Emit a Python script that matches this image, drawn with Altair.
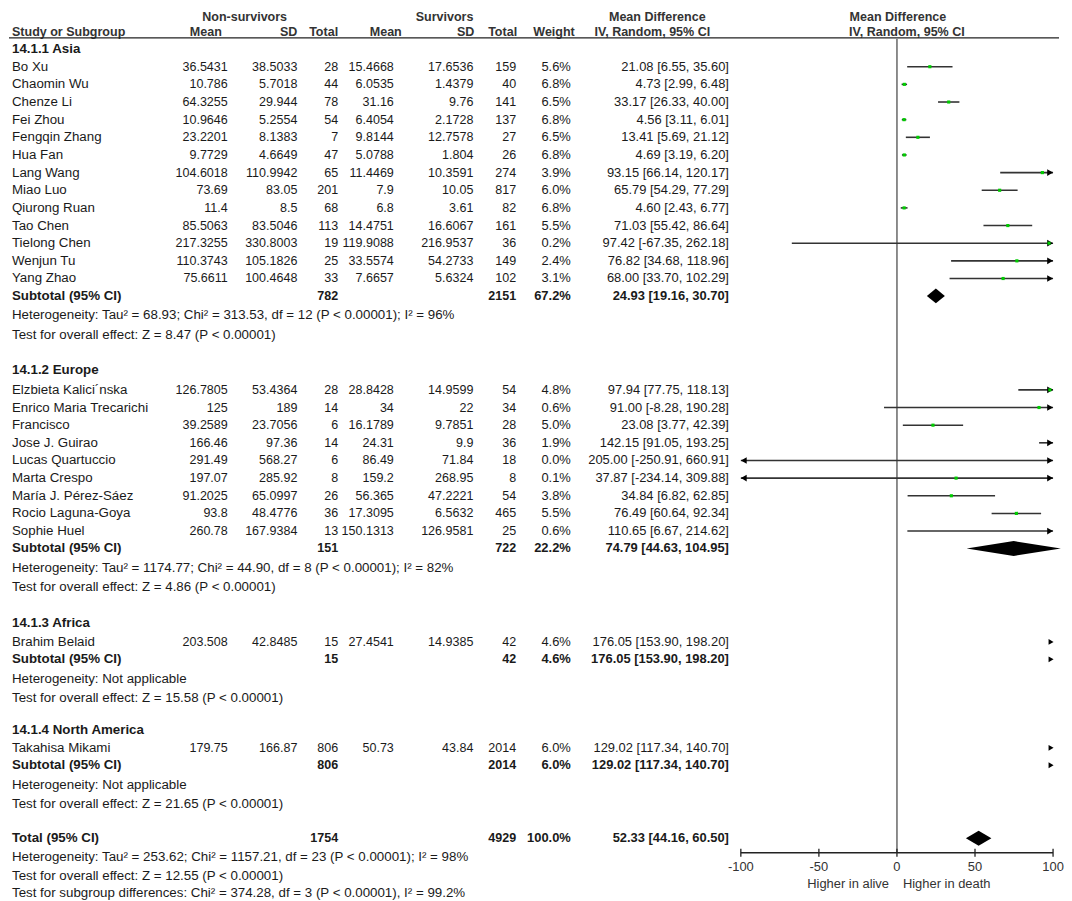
import altair as alt
import pandas as pd

# ---------------- data ----------------
study = ["Bo Xu", "Chaomin Wu", "Chenze Li", "Fei Zhou", "Fengqin Zhang", "Hua Fan", "Lang Wang",
         "Miao Luo", "Qiurong Ruan", "Tao Chen", "Tielong Chen", "Wenjun Tu", "Yang Zhao",
         "Elzbieta Kalici\u00b4nska", "Enrico Maria Trecarichi", "Francisco", "Jose J. Guirao",
         "Lucas Quartuccio", "Marta Crespo", "Mar\u00eda J. P\u00e9rez-S\u00e1ez", "Rocio Laguna-Goya", "Sophie Huel",
         "Brahim Belaid", "Takahisa Mikami"]
group = [0] * 13 + [1] * 9 + [2] + [3]
ns_mean = ["36.5431", "10.786", "64.3255", "10.9646", "23.2201", "9.7729", "104.6018", "73.69", "11.4",
           "85.5063", "217.3255", "110.3743", "75.6611",
           "126.7805", "125", "39.2589", "166.46", "291.49", "197.07", "91.2025", "93.8", "260.78",
           "203.508", "179.75"]
ns_sd = ["38.5033", "5.7018", "29.944", "5.2554", "8.1383", "4.6649", "110.9942", "83.05", "8.5",
         "83.5046", "330.8003", "105.1826", "100.4648",
         "53.4364", "189", "23.7056", "97.36", "568.27", "285.92", "65.0997", "48.4776", "167.9384",
         "42.8485", "166.87"]
ns_n = [28, 44, 78, 54, 7, 47, 65, 201, 68, 113, 19, 25, 33,
        28, 14, 6, 14, 6, 8, 26, 36, 13,
        15, 806]
s_mean = ["15.4668", "6.0535", "31.16", "6.4054", "9.8144", "5.0788", "11.4469", "7.9", "6.8",
          "14.4751", "119.9088", "33.5574", "7.6657",
          "28.8428", "34", "16.1789", "24.31", "86.49", "159.2", "56.365", "17.3095", "150.1313",
          "27.4541", "50.73"]
s_sd = ["17.6536", "1.4379", "9.76", "2.1728", "12.7578", "1.804", "10.3591", "10.05", "3.61",
        "16.6067", "216.9537", "54.2733", "5.6324",
        "14.9599", "22", "9.7851", "9.9", "71.84", "268.95", "47.2221", "6.5632", "126.9581",
        "14.9385", "43.84"]
s_n = [159, 40, 141, 137, 27, 26, 274, 817, 82, 161, 36, 149, 102,
       54, 34, 28, 36, 18, 8, 54, 465, 25,
       42, 2014]
weight = [5.6, 6.8, 6.5, 6.8, 6.5, 6.8, 3.9, 6.0, 6.8, 5.5, 0.2, 2.4, 3.1,
          4.8, 0.6, 5.0, 1.9, 0.0, 0.1, 3.8, 5.5, 0.6,
          4.6, 6.0]
md = [21.08, 4.73, 33.17, 4.56, 13.41, 4.69, 93.15, 65.79, 4.60, 71.03, 97.42, 76.82, 68.00,
      97.94, 91.00, 23.08, 142.15, 205.00, 37.87, 34.84, 76.49, 110.65,
      176.05, 129.02]
lo = [6.55, 2.99, 26.33, 3.11, 5.69, 3.19, 66.14, 54.29, 2.43, 55.42, -67.35, 34.68, 33.70,
      77.75, -8.28, 3.77, 91.05, -250.91, -234.14, 6.82, 60.64, 6.67,
      153.90, 117.34]
hi = [35.60, 6.48, 40.00, 6.01, 21.12, 6.20, 120.17, 77.29, 6.77, 86.64, 262.18, 118.96, 102.29,
      118.13, 190.28, 42.39, 193.25, 660.91, 309.88, 62.85, 92.34, 214.62,
      198.20, 140.70]

sub_names = ["14.1.1 Asia", "14.1.2 Europe", "14.1.3 Africa", "14.1.4 North America"]
sub_ns_n = [782, 151, 15, 806]
sub_s_n = [2151, 722, 42, 2014]
sub_weight = [67.2, 22.2, 4.6, 6.0]
sub_md = [24.93, 74.79, 176.05, 129.02]
sub_lo = [19.16, 44.63, 153.90, 117.34]
sub_hi = [30.70, 104.95, 198.20, 140.70]
sub_het = ["Heterogeneity: Tau\u00b2 = 68.93; Chi\u00b2 = 313.53, df = 12 (P < 0.00001); I\u00b2 = 96%",
           "Heterogeneity: Tau\u00b2 = 1174.77; Chi\u00b2 = 44.90, df = 8 (P < 0.00001); I\u00b2 = 82%",
           "Heterogeneity: Not applicable",
           "Heterogeneity: Not applicable"]
sub_test = ["Test for overall effect: Z = 8.47 (P < 0.00001)",
            "Test for overall effect: Z = 4.86 (P < 0.00001)",
            "Test for overall effect: Z = 15.58 (P < 0.00001)",
            "Test for overall effect: Z = 21.65 (P < 0.00001)"]

tot_ns_n, tot_s_n, tot_weight = 1754, 4929, 100.0
tot_md, tot_lo, tot_hi = 52.33, 44.16, 60.50
tot_het = "Heterogeneity: Tau\u00b2 = 253.62; Chi\u00b2 = 1157.21, df = 23 (P < 0.00001); I\u00b2 = 98%"
tot_test = "Test for overall effect: Z = 12.55 (P < 0.00001)"
subgroup_test = "Test for subgroup differences: Chi\u00b2 = 374.28, df = 3 (P < 0.00001), I\u00b2 = 99.2%"

axis_ticks = [-100, -50, 0, 50, 100]
axis_left_label = "Higher in alive"
axis_right_label = "Higher in death"

# ---------------- layout / styling ----------------
FONT = "Liberation Sans"
FS_NAME = 13.4
FS_NUM = 12.6
FS_CI = 13
FS_HDR = 12.6
TXT = "#1a1a1a"
HDR = "#333333"
W, H = 1056, 893
XMIN, XMAX = -100, 100

# vertical spacing of the table lines (px)
gap_before_header = [0, 36, 36, 32]
head_to_first = [17.5, 19.5, 19, 18]
STEP = 17.75
LAST_TO_SUB = 17.5
SUB_TO_HET = 19.5
HET_TO_TEST = 19.5


def ci_text(m, l, h):
    return f"{m:.2f} [{l:.2f}, {h:.2f}]"


rows = []
forest = []
diamonds = []
subarrows = []


def add_row(y, bold, **cells):
    d = {"y": y, "bold": bold}
    d.update(cells)
    rows.append(d)


y = 38.0
for g in range(4):
    y += gap_before_header[g]
    add_row(y, True, name=sub_names[g])
    y += head_to_first[g]
    idx = [i for i, gg in enumerate(group) if gg == g]
    for j, i in enumerate(idx):
        if j > 0:
            y += STEP
        add_row(y, False, name=study[i], nsm=ns_mean[i], nss=ns_sd[i], nsn=str(ns_n[i]),
                sm=s_mean[i], ss=s_sd[i], sn=str(s_n[i]), w=f"{weight[i]:.1f}%",
                ci=ci_text(md[i], lo[i], hi[i]))
        forest.append({"y": y, "md": md[i], "lo": lo[i], "hi": hi[i]})
    y += LAST_TO_SUB
    add_row(y, True, name="Subtotal (95% CI)", nsn=str(sub_ns_n[g]), sn=str(sub_s_n[g]),
            w=f"{sub_weight[g]:.1f}%", ci=ci_text(sub_md[g], sub_lo[g], sub_hi[g]))
    if sub_lo[g] > XMAX:
        subarrows.append({"y": y, "v": XMAX})
    else:
        diamonds.append({"y": y, "md": sub_md[g], "lo": sub_lo[g], "hi": sub_hi[g], "k": f"s{g}"})
    y += SUB_TO_HET
    add_row(y, False, name=sub_het[g])
    y += HET_TO_TEST
    add_row(y, False, name=sub_test[g])

y += 34.5
add_row(y, True, name="Total (95% CI)", nsn=str(tot_ns_n), sn=str(tot_s_n),
        w=f"{tot_weight:.1f}%", ci=ci_text(tot_md, tot_lo, tot_hi))
diamonds.append({"y": y, "md": tot_md, "lo": tot_lo, "hi": tot_hi, "k": "tot"})
y += 18.5
add_row(y, False, name=tot_het)
y += 19
add_row(y, False, name=tot_test)
y += 18
add_row(y, False, name=subgroup_test)

rows_df = pd.DataFrame(rows)

yscale = alt.Scale(domain=[0, H], range=[0, H], nice=False, zero=False)
xscale = alt.Scale(domain=[XMIN, XMAX], range=[736, 1050], nice=False, zero=False)
Y = alt.Y("y:Q", scale=yscale, axis=None)

layers = []

# table text columns
cols = [("name", 3, "left", FS_NAME), ("nsm", 220, "right", FS_NUM), ("nss", 290, "right", FS_NUM),
        ("nsn", 331, "right", FS_NUM), ("sm", 387, "right", FS_NUM), ("ss", 467, "right", FS_NUM),
        ("sn", 510, "right", FS_NUM), ("w", 565, "right", FS_CI), ("ci", 724, "right", FS_CI)]
for key, xpos, al, fs in cols:
    for b in (False, True):
        sub = rows_df[(rows_df["bold"] == b) & rows_df[key].notna()][["y", key]].rename(columns={key: "t"})
        if len(sub) == 0:
            continue
        layers.append(alt.Chart(sub).mark_text(align=al, baseline="middle", font=FONT, fontSize=fs,
                                               fontWeight="bold" if b else "normal", color=TXT)
                      .encode(x=alt.value(xpos), y=Y, text="t:N"))


def label(text, x, yv, align="left", bold=True, color=HDR, fs=FS_HDR, baseline="alphabetic"):
    return alt.Chart(pd.DataFrame({"t": [text]})).mark_text(
        align=align, baseline=baseline, font=FONT, fontSize=fs,
        fontWeight="bold" if bold else "normal", color=color).encode(
        x=alt.value(x), y=alt.value(yv), text="t:N")


# headers (two lines, baselines)
R1, R2 = 9.8, 24.5
layers += [
    label("Non-survivors", 237, R1, "center"),
    label("Survivors", 438, R1, "center"),
    label("Mean Difference", 652, R1, "center"),
    label("Mean Difference", 894, R1, "center"),
    label("Study or Subgroup", 3, R2, "left"),
    label("Mean", 214, R2, "right"),
    label("SD", 290, R2, "right"),
    label("Total", 331, R2, "right"),
    label("Mean", 395, R2, "right"),
    label("SD", 468, R2, "right"),
    label("Total", 511, R2, "right"),
    label("Weight", 569, R2, "right"),
    label("IV, Random, 95% CI", 647, R2, "center"),
    label("IV, Random, 95% CI", 903, R2, "center"),
]

# header underline
layers.append(alt.Chart(pd.DataFrame({"a": [0]})).mark_rule(color="#222222", strokeWidth=1.2)
              .encode(x=alt.value(0), x2=alt.value(W), y=alt.value(26.5)))

# zero line
layers.append(alt.Chart(pd.DataFrame({"v": [0]})).mark_rule(color="#808080", strokeWidth=1.8)
              .encode(x=alt.X("v:Q", scale=xscale, axis=None), y=alt.value(27.5), y2=alt.value(846)))

# CI lines
f_df = pd.DataFrame(forest)
f_df["x1"] = f_df["lo"].clip(lower=XMIN)
f_df["x2"] = f_df["hi"].clip(upper=XMAX)
lines = f_df[f_df["lo"] < XMAX]
layers.append(alt.Chart(lines).mark_rule(color="#333333", strokeWidth=1.6)
              .encode(x=alt.X("x1:Q", scale=xscale, axis=None), x2="x2:Q", y=Y))

# arrows
right = f_df[(f_df["hi"] > XMAX) & (f_df["lo"] < XMAX)].assign(v=XMAX)
left = f_df[f_df["lo"] < XMIN].assign(v=XMIN)
outside = f_df[f_df["lo"] > XMAX].assign(v=XMAX)
layers.append(alt.Chart(right).mark_point(shape="triangle-right", filled=True, color="black",
                                          opacity=1, size=45, xOffset=-3)
              .encode(x=alt.X("v:Q", scale=xscale, axis=None), y=Y))
layers.append(alt.Chart(left).mark_point(shape="triangle-left", filled=True, color="black",
                                         opacity=1, size=45, xOffset=3)
              .encode(x=alt.X("v:Q", scale=xscale, axis=None), y=Y))
arr2 = pd.concat([outside[["y", "v"]], pd.DataFrame(subarrows)])
layers.append(alt.Chart(arr2).mark_point(shape="triangle-right", filled=True, color="black",
                                         opacity=1, size=34, xOffset=-2)
              .encode(x=alt.X("v:Q", scale=xscale, axis=None), y=Y))

# point estimates
pts = f_df[(f_df["md"] >= XMIN) & (f_df["md"] <= XMAX)]
layers.append(alt.Chart(pts).mark_square(color="#00cc00", opacity=1, size=10)
              .encode(x=alt.X("md:Q", scale=xscale, axis=None), y=Y))

# diamonds (full shape; the chart edge trims any part past the right border)
HH = 7.5
dpts = []
for d in diamonds:
    dpts.append({"k": d["k"], "x": d["lo"], "t": d["y"], "b": d["y"]})
    dpts.append({"k": d["k"], "x": d["md"], "t": d["y"] - HH, "b": d["y"] + HH})
    dpts.append({"k": d["k"], "x": d["hi"], "t": d["y"], "b": d["y"]})
layers.append(alt.Chart(pd.DataFrame(dpts)).mark_area(color="black", opacity=1, interpolate="linear")
              .encode(x=alt.X("x:Q", scale=xscale, axis=None),
                      y=alt.Y("t:Q", scale=yscale, axis=None), y2="b:Q", detail="k:N"))

# custom axis
layers.append(alt.Chart(pd.DataFrame({"a": [XMIN], "b": [XMAX]})).mark_rule(color="#222222", strokeWidth=1.3)
              .encode(x=alt.X("a:Q", scale=xscale, axis=None), x2="b:Q", y=alt.value(846)))
tick_df = pd.DataFrame({"v": axis_ticks, "lab": [str(t) for t in axis_ticks]})
layers.append(alt.Chart(tick_df).mark_rule(color="#222222", strokeWidth=1.3)
              .encode(x=alt.X("v:Q", scale=xscale, axis=None), y=alt.value(842), y2=alt.value(850)))
layers.append(alt.Chart(tick_df).mark_text(font=FONT, fontSize=13, color=HDR, baseline="middle")
              .encode(x=alt.X("v:Q", scale=xscale, axis=None), y=alt.value(860.5), text="lab:N"))
layers.append(label(axis_left_label, 885, 877.5, "right", bold=False, fs=13, baseline="middle"))
layers.append(label(axis_right_label, 899, 877.5, "left", bold=False, fs=13, baseline="middle"))

chart = alt.layer(*layers).properties(width=W, height=H, padding=0).configure_view(stroke=None)
chart.save("out.html", embed_options={"renderer": "svg", "actions": False})
